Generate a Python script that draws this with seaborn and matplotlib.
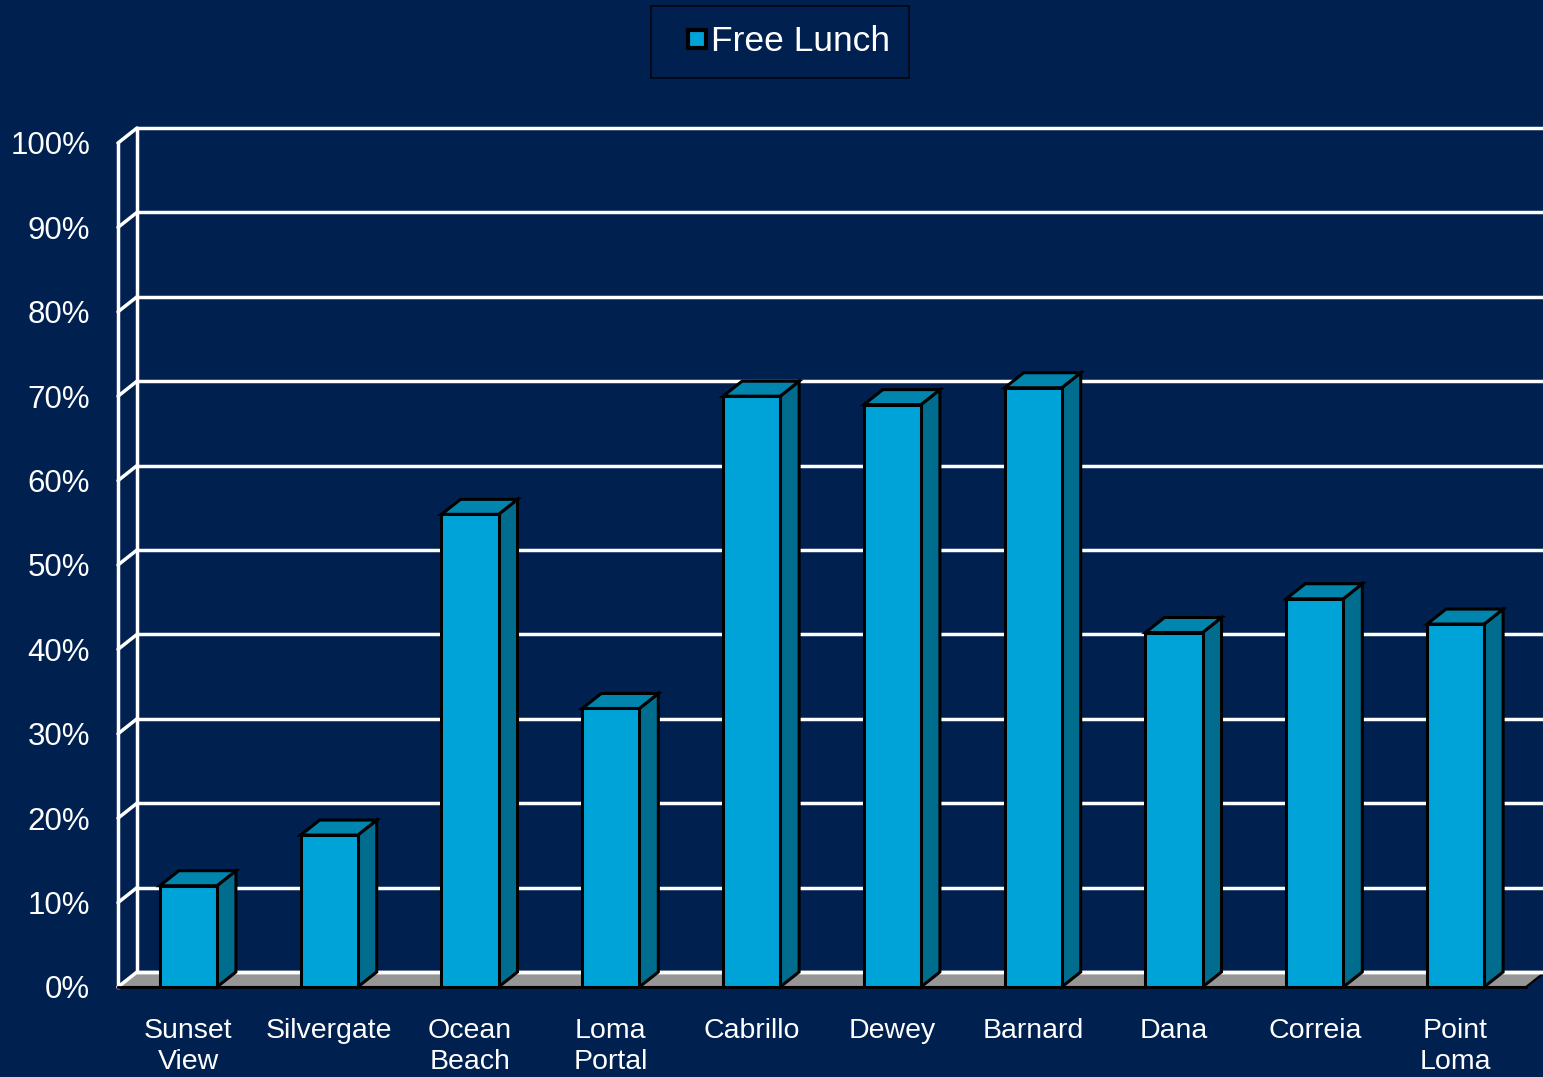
import numpy as np
import matplotlib
matplotlib.use("Agg")
import matplotlib.pyplot as plt
from matplotlib.patches import Polygon
from matplotlib.lines import Line2D
import seaborn as sns

# data
schools = ["Sunset\nView", "Silvergate", "Ocean\nBeach", "Loma\nPortal", "Cabrillo",
           "Dewey", "Barnard", "Dana", "Correia", "Point\nLoma"]
free_lunch = [12, 18, 56, 33, 70, 69, 71, 42, 46, 43]
y_ticks = list(range(0, 101, 10))
y_labels = [f"{t}%" for t in y_ticks]

bg = "#002050"
front = "#00A3D7"
side = "#006C8E"
top = "#0086AE"
floor = "#969696"

sns.set_style("white")
plt.rcParams["font.family"] = ["Liberation Sans", "DejaVu Sans"]

fig = plt.figure(figsize=(15.43, 10.77), dpi=100, facecolor=bg)
ax = fig.add_axes([118 / 1543, 90 / 1077, 1408 / 1543, 844 / 1077])
ax.set_facecolor("none")

# depth of the fake 3d, in data units
dx = 0.135
dy = 1.78

sns.barplot(x=schools, y=free_lunch, width=0.405, color=front, saturation=1,
            edgecolor="black", linewidth=2.2, ax=ax, zorder=4)
ax.set_xlim(-0.5, 9.5)
ax.set_ylim(0, 100)

# back wall grid, left wall and floor
for t in y_ticks:
    ax.plot([-0.5 + dx, 9.5 + dx + 0.2], [t + dy, t + dy], color="white", lw=2.5,
            clip_on=False, zorder=1.5)
    ax.plot([-0.5, -0.5 + dx], [t, t + dy], color="white", lw=2.5, clip_on=False, zorder=1.5)
ax.plot([-0.5 + dx, -0.5 + dx], [dy, 100 + dy], color="white", lw=2.5, clip_on=False, zorder=1.5)
ax.add_patch(Polygon([(-0.5, 0), (9.5, 0), (9.5 + dx, dy), (-0.5 + dx, dy)],
                     facecolor=floor, edgecolor="black", lw=1.5, clip_on=False, zorder=1))
ax.plot([-0.5 + dx, 9.5 + dx], [dy, dy], color="white", lw=2.5, clip_on=False, zorder=1.6)

# side and top faces of each bar
for p in list(ax.patches):
    if not hasattr(p, "get_width") or p.get_height() <= 0 or p.get_width() > 1:
        continue
    x0, w, h = p.get_x(), p.get_width(), p.get_height()
    x1 = x0 + w
    ax.add_patch(Polygon([(x1, 0), (x1 + dx, dy), (x1 + dx, h + dy), (x1, h)],
                         facecolor=side, edgecolor="black", lw=2.2, zorder=3.5, clip_on=False))
    ax.add_patch(Polygon([(x0, h), (x0 + dx, h + dy), (x1 + dx, h + dy), (x1, h)],
                         facecolor=top, edgecolor="black", lw=2.2, zorder=3.5, clip_on=False))

# axes styling
for s in ["top", "right"]:
    ax.spines[s].set_visible(False)
ax.spines["left"].set_color("white")
ax.spines["left"].set_linewidth(2.5)
ax.spines["bottom"].set_color("black")
ax.spines["bottom"].set_linewidth(2)
ax.spines["bottom"].set_zorder(5)

ax.set_yticks(y_ticks)
ax.set_yticklabels(y_labels)
ax.tick_params(axis="y", colors="white", length=8, width=2.5, pad=12, labelsize=22.5)
ax.set_xticks(np.arange(-0.5, 10, 1), minor=True)
ax.tick_params(axis="x", which="major", length=0, pad=22, labelsize=20.5, labelcolor="white")
ax.tick_params(axis="x", which="minor", length=7, width=1.5, color="black")
for lbl in ax.get_xticklabels():
    lbl.set_linespacing(1.25)
ax.set_xlabel("")
ax.set_ylabel("")

handles = [Line2D([], [], ls="none", marker="s", markersize=13.5, markerfacecolor=front,
                  markeredgecolor="black", markeredgewidth=3, label="Free Lunch")]
leg = fig.legend(handles=handles, loc="upper center", bbox_to_anchor=(780 / 1543, 1 - 6 / 1077),
                 fontsize=25.5, frameon=True, fancybox=False, handlelength=1.5,
                 handletextpad=-0.35, borderpad=0.55, borderaxespad=0)
leg.get_frame().set_facecolor(bg)
leg.get_frame().set_edgecolor("black")
leg.get_frame().set_linewidth(1.2)
for txt in leg.get_texts():
    txt.set_color("white")

fig.savefig("out.png", dpi=100, facecolor=bg)
